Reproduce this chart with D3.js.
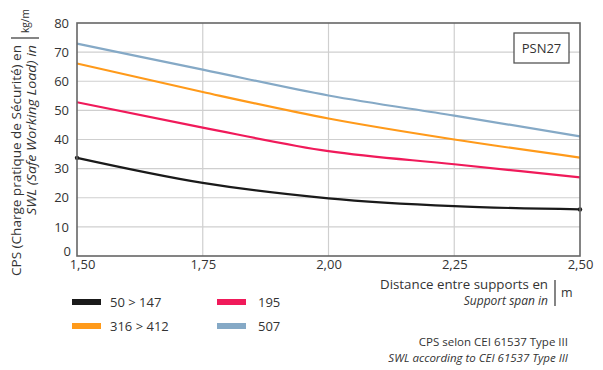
<!DOCTYPE html>
<html><head><meta charset="utf-8">
<script src="https://cdn.jsdelivr.net/npm/d3@7/dist/d3.min.js"></script>
<style>
body{margin:0;background:#fff;}
text{font-family:"Open Sans",sans-serif;fill:#333;}
</style></head>
<body><svg id="c" width="603" height="370"></svg>
<script>
const spans = [1.50, 1.75, 2.00, 2.25, 2.50];
const s50_147 = [33.7, 25.1, 19.8, 17.1, 16.0];
const s195 = [52.8, 44.1, 36.0, 31.5, 27.0];
const s316_412 = [66.1, 56.3, 47.2, 40.0, 33.8];
const s507 = [72.9, 64.0, 55.1, 48.2, 41.1];
const seriesNames = ["50 > 147", "195", "316 > 412", "507"];
const seriesColors = ["#1a1a1a", "#f01a5a", "#ff9a1a", "#85a9c6"];
const xTicks = [1.50, 1.75, 2.00, 2.25, 2.50];
const yTicks = [0, 10, 20, 30, 40, 50, 60, 70, 80];

const svg = d3.select("#c");
const L = 77, R = 580, T = 23, B = 256;
const x = d3.scaleLinear().domain([1.5, 2.5]).range([L, R]);
const y = d3.scaleLinear().domain([0, 80]).range([B, T]);
const fmt = v => d3.format(".2f")(v).replace(".", ",");

// grid
svg.append("g").selectAll("line").data(yTicks.slice(1, -1)).join("line")
  .attr("x1", L).attr("x2", R).attr("y1", d => y(d)).attr("y2", d => y(d))
  .attr("stroke", "#cfcfcf").attr("stroke-width", 1.2);
svg.append("g").selectAll("line").data(xTicks.slice(1, -1)).join("line")
  .attr("y1", T).attr("y2", B).attr("x1", d => x(d)).attr("x2", d => x(d))
  .attr("stroke", "#cfcfcf").attr("stroke-width", 1.2);

// axes tick labels
const yAxis = d3.axisLeft(y).tickValues(yTicks).tickSize(0).tickPadding(8).tickFormat(d3.format("d"));
const gy = svg.append("g").attr("transform", `translate(${L},0)`).call(yAxis);
gy.select(".domain").remove();
gy.selectAll("text").attr("font-size", 13).attr("fill", "#333").attr("font-family", "Open Sans");
gy.selectAll(".tick").filter(d => d === 0).select("text").attr("dy", "-0.05em").attr("x", -6);

const xAxis = d3.axisBottom(x).tickValues(xTicks).tickSize(0).tickPadding(4).tickFormat(fmt);
const gx = svg.append("g").attr("transform", `translate(0,${B})`).call(xAxis);
gx.select(".domain").remove();
gx.selectAll("text").attr("font-size", 13).attr("fill", "#333").attr("font-family", "Open Sans");
gx.selectAll(".tick").filter(d => d === 1.5).select("text").attr("x", 5);

// lines
const allSeries = [s50_147, s195, s316_412, s507];
const line = d3.line().x((d, i) => x(spans[i])).y(d => y(d)).curve(d3.curveMonotoneX);
[3, 2, 1, 0].forEach(k => {
  svg.append("path").datum(allSeries[k]).attr("d", line)
    .attr("fill", "none").attr("stroke", seriesColors[k]).attr("stroke-width", 2.2);
});
// black end dots
svg.append("g").selectAll("circle").data([0, spans.length - 1]).join("circle")
  .attr("cx", i => x(spans[i])).attr("cy", i => y(s50_147[i])).attr("r", 2.2).attr("fill", "#1a1a1a");

// frame
svg.append("rect").attr("x", L).attr("y", T).attr("width", R - L).attr("height", B - T)
  .attr("fill", "none").attr("stroke", "#666").attr("stroke-width", 1.6);

// PSN27 box
svg.append("rect").attr("x", 514).attr("y", 33).attr("width", 55).attr("height", 30)
  .attr("fill", "#fff").attr("stroke", "#555").attr("stroke-width", 1.3);
svg.append("text").attr("x", 541.5).attr("y", 53).attr("text-anchor", "middle")
  .attr("font-size", 13).text("PSN27");

// y axis title
const yt = svg.append("g");
yt.append("text").attr("transform", "translate(21,45) rotate(-90)").attr("text-anchor", "end")
  .attr("font-size", 12.5).attr("textLength", 231).attr("lengthAdjust", "spacingAndGlyphs")
  .text("CPS (Charge pratique de Sécurité) en");
yt.append("text").attr("transform", "translate(36,45) rotate(-90)").attr("text-anchor", "end")
  .attr("font-size", 12.5).attr("font-style", "italic").attr("textLength", 170).attr("lengthAdjust", "spacingAndGlyphs")
  .text("SWL (Safe Working Load) in");
yt.append("line").attr("x1", 11).attr("x2", 39).attr("y1", 38).attr("y2", 38).attr("stroke", "#333").attr("stroke-width", 1.2);
yt.append("text").attr("transform", "translate(29,33) rotate(-90)").attr("text-anchor", "start")
  .attr("font-size", 11.5).attr("textLength", 24).attr("lengthAdjust", "spacingAndGlyphs").text("kg/m");

// x axis title
svg.append("text").attr("x", 548).attr("y", 289).attr("text-anchor", "end").attr("font-size", 12)
  .attr("textLength", 168).attr("lengthAdjust", "spacingAndGlyphs")
  .text("Distance entre supports en");
svg.append("text").attr("x", 548).attr("y", 305).attr("text-anchor", "end").attr("font-size", 12)
  .attr("font-style", "italic").text("Support span in");
svg.append("line").attr("x1", 555).attr("x2", 555).attr("y1", 280).attr("y2", 306).attr("stroke", "#333").attr("stroke-width", 1.2);
svg.append("text").attr("x", 561).attr("y", 297).attr("font-size", 12.5).text("m");

// legend
const legPos = [[72, 302], [217, 302], [72, 326], [217, 326]];
seriesNames.forEach((n, k) => {
  const [lx, ly] = legPos[k];
  svg.append("rect").attr("x", lx).attr("y", ly - 3).attr("width", 29).attr("height", 6).attr("fill", seriesColors[k]);
  svg.append("text").attr("x", lx + (k % 2 ? 41 : 38)).attr("y", ly + 5).attr("font-size", 13).text(n);
});

// footer
svg.append("text").attr("x", 568).attr("y", 346).attr("text-anchor", "end").attr("font-size", 11.5)
  .text("CPS selon CEI 61537 Type III");
svg.append("text").attr("x", 568).attr("y", 362).attr("text-anchor", "end").attr("font-size", 11.5)
  .attr("font-style", "italic").text("SWL according to CEI 61537 Type III");
</script></body></html>
